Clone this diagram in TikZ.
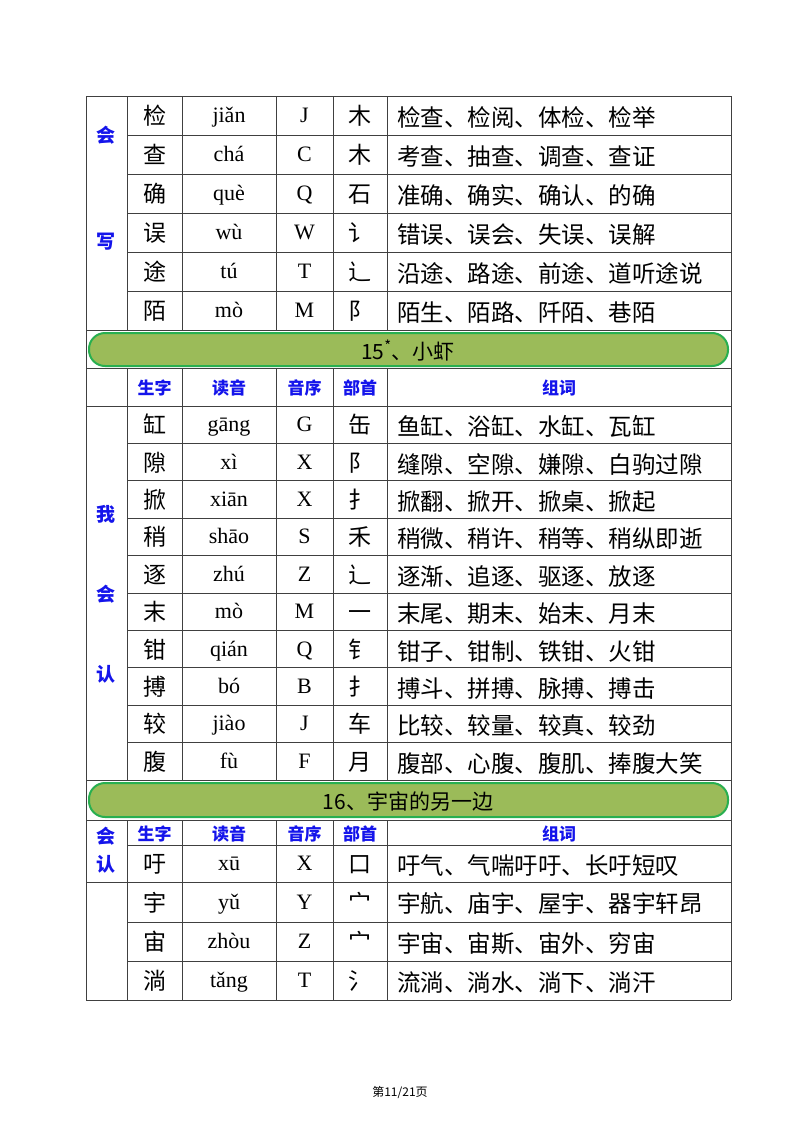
\documentclass[tikz,border=0pt]{standalone}
\usepackage{fontspec}
\setmainfont{Liberation Serif}
\newfontfamily\cjk{Noto Sans CJK SC}
\definecolor{hdblue}{RGB}{20,20,235}
\definecolor{bannerfill}{RGB}{155,187,89}
\definecolor{bannerline}{RGB}{40,175,80}
\tikzset{
  grid/.style={draw=black!75, line width=0.8pt},
  zi/.style={font=\cjk\fontsize{23}{23}\selectfont, text height=17pt, text depth=3pt, yshift=-2pt},
  py/.style={font=\fontsize{22}{22}\selectfont, text height=16pt, text depth=4pt, yshift=-1pt},
  ci/.style={font=\cjk\fontsize{23.5}{23.5}\selectfont, anchor=west, inner sep=1pt, yshift=-2pt},
  hd/.style={font=\cjk\bfseries\fontsize{17}{17}\selectfont, text=hdblue, yshift=-1pt},
  side/.style={font=\cjk\bfseries\fontsize{19}{19}\selectfont, text=hdblue},
  banner/.style={draw=bannerline, line width=2pt, fill=bannerfill, rounded corners=16pt},
  btxt/.style={font=\cjk\fontsize{21}{21}\selectfont, yshift=-1pt},
}
\newcommand{\trow}[8]{% name, ytop, ybot, zi, py, letter, radical, words
  \path (154.5,{(#2+#3)/2}) node[zi] (#1z) {#4}
        (229,{(#2+#3)/2}) node[py] (#1p) {#5}
        (304.5,{(#2+#3)/2}) node[py] (#1l) {#6}
        (360,{(#2+#3)/2}) node[zi] (#1r) {#7}
        (396,{(#2+#3)/2}) node[ci] (#1w) {#8};
  \draw[grid] (127,#3) -- (731,#3);
}
\newcommand{\vcols}[2]{\foreach \xx in {127,182,276,333,387} \draw[grid] (\xx,#1) -- (\xx,#2);}
\newcommand{\hdrow}[3]{% name, ytop, ybot
  \path (154.5,{(#2+#3)/2}) node[hd] (#1a) {生字}
        (229,{(#2+#3)/2}) node[hd] (#1b) {读音}
        (304.5,{(#2+#3)/2}) node[hd] (#1c) {音序}
        (360,{(#2+#3)/2}) node[hd] (#1d) {部首}
        (559,{(#2+#3)/2}) node[hd] (#1e) {组词};
  \draw[grid] (127,#3) -- (731,#3);
}
\begin{document}
\begin{tikzpicture}[x=1pt,y=-1pt]
\useasboundingbox (0,0) rectangle (800,1132);
\fill[white] (0,0) rectangle (800,1132);
\draw[grid] (86,96) -- (731,96);
\draw[grid] (86,96) -- (86,1000);
\draw[grid] (731,96) -- (731,1000);
% section 1
\vcols{96}{330}
\trow{a1}{96}{135}{检}{jiǎn}{J}{木}{检查、检阅、体检、检举}
\trow{a2}{135}{174}{查}{chá}{C}{木}{考查、抽查、调查、查证}
\trow{a3}{174}{213}{确}{què}{Q}{石}{准确、确实、确认、的确}
\trow{a4}{213}{252}{误}{wù}{W}{讠}{错误、误会、失误、误解}
\trow{a5}{252}{291}{途}{tú}{T}{辶}{沿途、路途、前途、道听途说}
\trow{a6}{291}{330}{陌}{mò}{M}{阝}{陌生、陌路、阡陌、巷陌}
\draw[grid] (86,330) -- (731,330);
\node[side] (s1a) at (106,135) {会};
\node[side] (s1b) at (106,242) {写};
% banner 1
\draw[banner] (89,333) rectangle (728,366);
\node[btxt] (b1) at (408,349.5) {15\textsuperscript{*}、小虾};
\draw[grid] (86,368) -- (731,368);
% section 2
\vcols{368}{780}
\hdrow{h2}{368}{406}
\draw[grid] (86,406) -- (127,406);
\trow{b1r}{406}{443.4}{缸}{gāng}{G}{缶}{鱼缸、浴缸、水缸、瓦缸}
\trow{b2r}{443.4}{480.8}{隙}{xì}{X}{阝}{缝隙、空隙、嫌隙、白驹过隙}
\trow{b3r}{480.8}{518.2}{掀}{xiān}{X}{扌}{掀翻、掀开、掀桌、掀起}
\trow{b4r}{518.2}{555.6}{稍}{shāo}{S}{禾}{稍微、稍许、稍等、稍纵即逝}
\trow{b5r}{555.6}{593}{逐}{zhú}{Z}{辶}{逐渐、追逐、驱逐、放逐}
\trow{b6r}{593}{630.4}{末}{mò}{M}{一}{末尾、期末、始末、月末}
\trow{b7r}{630.4}{667.8}{钳}{qián}{Q}{钅}{钳子、钳制、铁钳、火钳}
\trow{b8r}{667.8}{705.2}{搏}{bó}{B}{扌}{搏斗、拼搏、脉搏、搏击}
\trow{b9r}{705.2}{742.6}{较}{jiào}{J}{车}{比较、较量、较真、较劲}
\trow{b10r}{742.6}{780}{腹}{fù}{F}{月}{腹部、心腹、腹肌、捧腹大笑}
\draw[grid] (86,780) -- (731,780);
\node[side] (s2a) at (106,514) {我};
\node[side] (s2b) at (106,594) {会};
\node[side] (s2c) at (106,674) {认};
% banner 2
\draw[banner] (89,783) rectangle (728,817);
\node[btxt] (b2) at (408,800.5) {16、宇宙的另一边};
\draw[grid] (86,820) -- (731,820);
% section 3
\vcols{820}{1000}
\hdrow{h3}{820}{845}
\trow{c1}{845}{882}{吁}{xū}{X}{口}{吁气、气喘吁吁、长吁短叹}
\draw[grid] (86,882) -- (127,882);
\trow{c2}{882}{922}{宇}{yǔ}{Y}{宀}{宇航、庙宇、屋宇、器宇轩昂}
\trow{c3}{922}{961}{宙}{zhòu}{Z}{宀}{宇宙、宙斯、宙外、穷宙}
\trow{c4}{961}{1000}{淌}{tǎng}{T}{氵}{流淌、淌水、淌下、淌汗}
\draw[grid] (86,1000) -- (731,1000);
\node[side] (s3a) at (106,836) {会};
\node[side] (s3b) at (106,864) {认};
\node[font=\cjk\fontsize{12}{12}\selectfont] (ft) at (400,1092) {第11/21页};
\end{tikzpicture}
\end{document}
